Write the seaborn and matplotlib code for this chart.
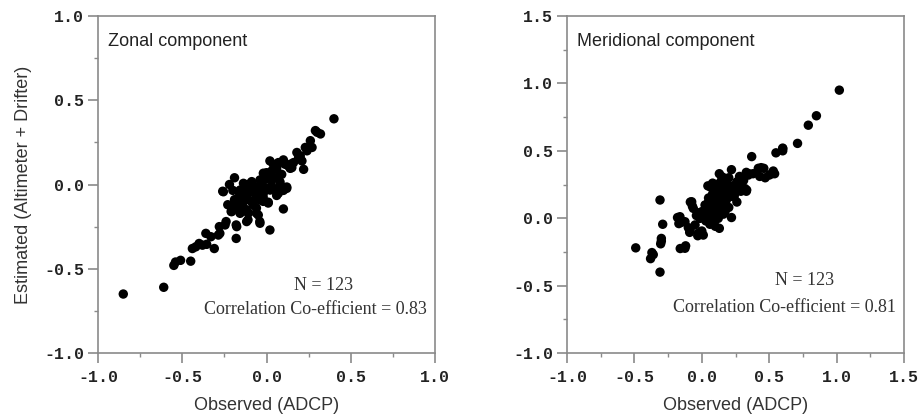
import numpy as np
import pandas as pd
import matplotlib
matplotlib.use("Agg")
import matplotlib.pyplot as plt
import seaborn as sns
from matplotlib.ticker import MultipleLocator, FormatStrFormatter

# --- DATA ---
zonal_obs = [-0.85, -0.61, -0.55, -0.54, -0.51, -0.45, -0.44, -0.40, -0.38, -0.36,
             -0.355, -0.31, -0.28, -0.277, -0.24, -0.26, -0.22, -0.19, -0.20, -0.21,
             -0.20, -0.18, -0.18, -0.16, -0.14, -0.11, -0.11, -0.06, -0.04, 0.02,
             -0.09, -0.08, -0.06, -0.02, 0.01, 0.0, 0.02, 0.06, 0.08, 0.10,
             0.06, 0.12, 0.10, 0.13, 0.18, 0.20, 0.21, 0.22, 0.23, 0.26,
             0.27, 0.29, 0.32, 0.40, -0.256, -0.157, -0.137, -0.088, -0.068, -0.108,
             -0.039, -0.019, 0.061, 0.10, 0.14, 0.12, 0.07, 0.01, -0.039, -0.019,
             0.021, 0.031, 0.08, -0.197, -0.207, -0.157, -0.108, -0.049, -0.118, -0.039,
             -0.177, -0.246, -0.286, -0.23, -0.17, -0.15, -0.13, -0.12, -0.10, -0.09,
             -0.07, -0.05, -0.04, -0.03, -0.01, 0.0, 0.01, 0.03, 0.04, 0.05,
             0.07, 0.09, 0.11, 0.15, 0.16, -0.17, -0.14, -0.12, -0.08, -0.06,
             -0.02, 0.03, 0.05, -0.11, -0.13, -0.16, -0.19, 0.14, 0.19, 0.24,
             0.30, -0.33, -0.42]
zonal_est = [-0.65, -0.61, -0.48, -0.46, -0.45, -0.455, -0.38, -0.35, -0.36, -0.29,
             -0.355, -0.38, -0.25, -0.29, -0.22, -0.04, 0.0, 0.04, -0.035, -0.16,
             -0.12, -0.24, -0.32, -0.065, -0.105, -0.165, -0.21, -0.17, -0.22, -0.27,
             0.01, -0.045, -0.085, -0.075, -0.105, 0.07, 0.14, 0.09, 0.015, -0.035,
             -0.065, -0.015, -0.145, 0.11, 0.19, 0.17, 0.14, 0.09, 0.22, 0.26,
             0.22, 0.32, 0.30, 0.39, -0.043, -0.033, 0.007, 0.017, -0.013, -0.052,
             0.027, 0.067, 0.106, 0.146, 0.096, -0.023, -0.052, -0.11, -0.092, -0.052,
             -0.033, 0.027, 0.0, -0.122, -0.161, -0.171, -0.171, -0.181, -0.22, -0.23,
             -0.25, -0.24, -0.30, -0.12, -0.10, -0.08, -0.06, -0.09, -0.03, -0.10,
             -0.05, -0.02, -0.06, 0.01, 0.03, -0.02, 0.05, 0.08, 0.12, 0.04,
             0.13, 0.06, 0.12, 0.10, 0.13, -0.14, -0.13, -0.15, -0.12, -0.14,
             -0.10, -0.01, -0.03, 0.0, -0.02, -0.11, -0.09, 0.12, 0.16, 0.20,
             0.31, -0.31, -0.37]

merid_obs = [1.02, 0.85, 0.79, 0.71, 0.60, 0.60, 0.55, 0.37, 0.53, 0.54,
             0.44, 0.46, 0.43, 0.33, 0.38, 0.33, 0.22, 0.13, 0.08, 0.045,
             -0.31, -0.29, -0.30, -0.305, -0.49, -0.37, -0.38, -0.31, -0.16, -0.12,
             -0.18, -0.15, -0.09, -0.03, 0.0, 0.06, 0.13, -0.085, -0.07, 0.22,
             0.16, 0.20, 0.148, 0.061, 0.14, 0.419, 0.345, 0.296, 0.333, 0.222,
             0.172, 0.098, 0.073, 0.122, 0.024, -0.075, -0.063, -0.001, 0.048, 0.172,
             0.24, 0.122, -0.013, 0.073, 0.10, -0.162, -0.125, -0.17, -0.087, -0.026,
             0.011, -0.125, -0.36, -0.30, 0.02, 0.04, 0.05, 0.06, 0.07, 0.08,
             0.09, 0.10, 0.11, 0.12, 0.13, 0.14, 0.15, 0.16, 0.17, 0.18,
             0.19, 0.20, 0.21, 0.23, 0.25, 0.26, 0.27, 0.28, 0.29, 0.31,
             0.32, 0.35, 0.47, 0.50, 0.52, 0.01, 0.03, -0.02, -0.04, -0.05,
             0.05, 0.09, 0.11, 0.14, 0.18, 0.10, 0.16, 0.26, 0.29, -0.10,
             0.60, 0.04, 0.12]
merid_est = [0.95, 0.76, 0.69, 0.555, 0.515, 0.50, 0.485, 0.457, 0.35, 0.33,
             0.375, 0.37, 0.31, 0.34, 0.33, 0.20, 0.36, 0.33, 0.26, 0.24,
             0.135, -0.045, -0.15, -0.19, -0.22, -0.255, -0.30, -0.40, -0.225, -0.205,
             0.005, -0.03, -0.105, -0.13, -0.095, -0.045, -0.075, 0.12, 0.09, 0.005,
             0.03, 0.30, 0.308, 0.234, 0.27, 0.37, 0.32, 0.283, 0.209, 0.222,
             0.172, 0.172, 0.122, 0.098, 0.098, 0.122, 0.073, 0.048, 0.036, 0.048,
             0.16, -0.001, -0.001, -0.038, -0.06, 0.011, -0.026, -0.04, -0.088, -0.112,
             -0.125, -0.223, -0.27, -0.17, 0.06, 0.10, 0.15, 0.07, 0.01, 0.18,
             0.11, 0.14, 0.06, 0.20, 0.13, 0.08, 0.16, 0.10, 0.22, 0.13,
             0.19, 0.08, 0.16, 0.24, 0.19, 0.27, 0.22, 0.31, 0.24, 0.28,
             0.22, 0.33, 0.30, 0.32, 0.33, 0.02, -0.02, 0.04, 0.02, -0.05,
             0.12, 0.04, 0.23, 0.19, 0.26, 0.25, 0.30, 0.12, 0.20, -0.07,
             0.52, 0.05, 0.16]

panels = [
    dict(obs=zonal_obs, est=zonal_est, title="Zonal component",
         xlim=(-1.0, 1.0), ylim=(-1.0, 1.0), n=123, r=0.83),
    dict(obs=merid_obs, est=merid_est, title="Meridional component",
         xlim=(-1.0, 1.5), ylim=(-1.0, 1.5), n=123, r=0.81),
]

sns.set_style("white")
plt.rcParams['font.family'] = ['Liberation Sans', 'DejaVu Sans']

fig = plt.figure(figsize=(9.21, 4.18), dpi=100)
ax_pos = [[0.1064, 0.1555, 0.366, 0.8062], [0.6156, 0.1555, 0.366, 0.8062]]
spine_col = "#8a8a8a"

for i, p in enumerate(panels):
    ax = fig.add_axes(ax_pos[i])
    df = pd.DataFrame({"obs": p["obs"], "est": p["est"]})
    sns.scatterplot(data=df, x="obs", y="est", ax=ax, color="black", s=46,
                    edgecolor="none", linewidth=0)
    ax.set_xlim(*p["xlim"])
    ax.set_ylim(*p["ylim"])
    ax.xaxis.set_major_locator(MultipleLocator(0.5))
    ax.yaxis.set_major_locator(MultipleLocator(0.5))
    ax.xaxis.set_minor_locator(MultipleLocator(0.25))
    ax.yaxis.set_minor_locator(MultipleLocator(0.25))
    ax.tick_params(which="major", direction="out", length=7, width=1.2,
                   color=spine_col, left=True, bottom=True, top=False, right=False, pad=3)
    ax.tick_params(axis="x", which="major", pad=5)
    ax.tick_params(which="minor", direction="out", length=3, width=1.0,
                   color=spine_col, left=True, bottom=True, top=False, right=False)
    ax.xaxis.set_major_formatter(FormatStrFormatter("%.1f"))
    ax.yaxis.set_major_formatter(FormatStrFormatter("%.1f"))
    for lab in ax.get_xticklabels() + ax.get_yticklabels():
        lab.set_fontfamily("Liberation Mono")
        lab.set_fontweight("bold")
        lab.set_fontsize(12)
        lab.set_color("#222222")
    for sp in ax.spines.values():
        sp.set_visible(True)
        sp.set_color(spine_col)
        sp.set_linewidth(1.2)

    ax.set_xlabel("Observed (ADCP)", fontsize=13, color="#333333", labelpad=9)
    if i == 0:
        ax.set_ylabel("Estimated (Altimeter + Drifter)", fontsize=13, color="#333333",
                      labelpad=9)
    else:
        ax.set_ylabel("")

    ax.text(0.03, 0.925, p["title"], transform=ax.transAxes, fontsize=13,
            color="#222222", ha="left", va="center")
    ax.text(0.67 if i == 0 else 0.705, 0.20 if i == 0 else 0.215,
            f"N = {p['n']}", transform=ax.transAxes, fontsize=13,
            family="Liberation Serif", color="#333333", ha="center", va="center")
    ax.text(0.975, 0.13 if i == 0 else 0.135,
            f"Correlation Co-efficient = {p['r']:.2f}", transform=ax.transAxes,
            fontsize=13, family="Liberation Serif", color="#333333",
            ha="right", va="center")

fig.savefig("out.png", dpi=100)
